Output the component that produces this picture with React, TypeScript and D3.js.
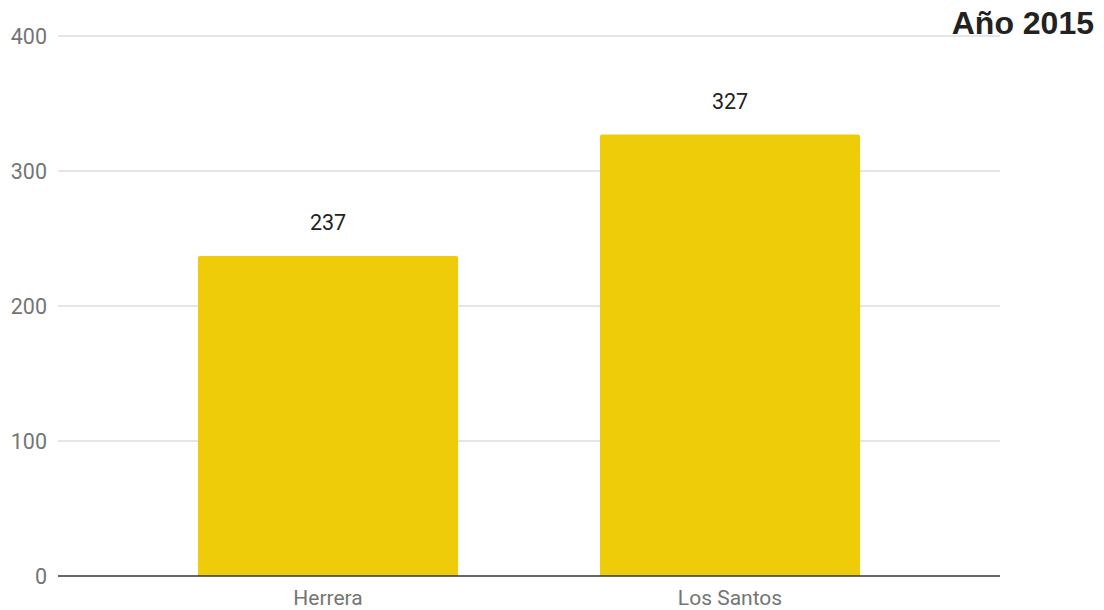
import React from "react";
import * as d3 from "d3";

const categories = ["Herrera", "Los Santos"];
const values = [237, 327];
const yTicks = [0, 100, 200, 300, 400];
const title = "Año 2015";

export default function App() {
  const W = 1104, H = 610;
  const left = 58, right = 1000, top = 36, bottom = 576;
  const y = d3.scaleLinear().domain([0, 400]).range([bottom, top]);
  const x = d3.scaleBand<string>().domain(categories).range([127, 931]).paddingInner(0.353).paddingOuter(0.1765);
  const bw = x.bandwidth();
  const r = 2;
  const barPath = (x0: number, y0: number, w: number, h: number) => {
    const p = d3.path();
    p.moveTo(x0, y0 + h);
    p.lineTo(x0, y0 + r);
    p.arcTo(x0, y0, x0 + r, y0, r);
    p.lineTo(x0 + w - r, y0);
    p.arcTo(x0 + w, y0, x0 + w, y0 + r, r);
    p.lineTo(x0 + w, y0 + h);
    p.closePath();
    return p.toString();
  };
  return (
    <svg width={W} height={H} style={{ position: "absolute", left: 0, top: 0, background: "#fff" }}>
      {yTicks.map((t) => (
        <g key={t}>
          {t !== 0 && <line x1={left} x2={right} y1={y(t)} y2={y(t)} stroke="#cccccc" strokeWidth={1} />}
          <text x={47} y={y(t)} dy="0.36em" textAnchor="end" fontFamily="Roboto" fontSize={21.5} fill="#757575">{t}</text>
        </g>
      ))}
      {categories.map((c, i) => {
        const x0 = x(c)!;
        const y0 = y(values[i]);
        return (
          <g key={c}>
            <path d={barPath(x0, y0, bw, bottom - y0)} fill="#EECC0A" />
            <text x={x0 + bw / 2} y={y0 - 26} textAnchor="middle" fontFamily="Roboto" fontSize={21.5} fill="#222222">{values[i]}</text>
            <text x={x0 + bw / 2} y={605} textAnchor="middle" fontFamily="Roboto" fontSize={21} fill="#757575">{c}</text>
          </g>
        );
      })}
      <line x1={left} x2={right} y1={bottom} y2={bottom} stroke="#333333" strokeWidth={1.3} />
      <text x={1094} y={34} textAnchor="end" fontFamily="Liberation Sans, Arial, sans-serif" fontWeight="bold" fontSize={32} fill="#222222">{title}</text>
    </svg>
  );
}
